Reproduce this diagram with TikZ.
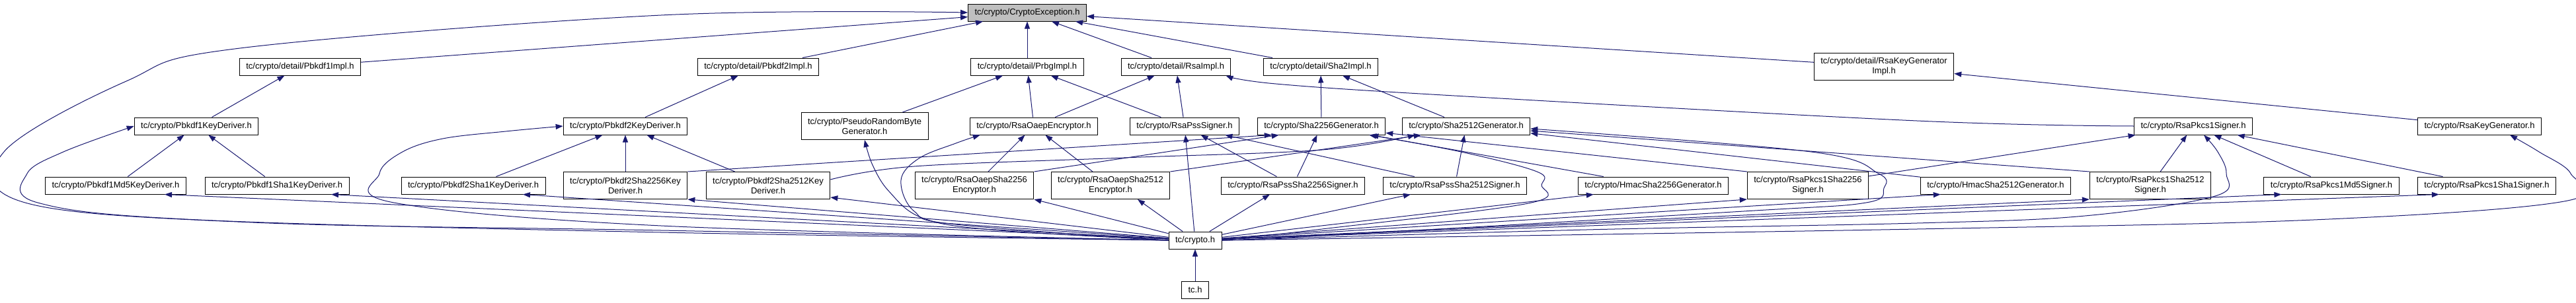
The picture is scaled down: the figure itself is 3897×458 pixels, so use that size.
\documentclass[tikz,border=0pt]{standalone}
\usepackage{fontspec}
\setmainfont{Liberation Sans}
\usetikzlibrary{arrows.meta}
\definecolor{edgeblue}{HTML}{191970}
\definecolor{rootgray}{HTML}{BFBFBF}

\begin{document}
\begin{tikzpicture}[x=1pt,y=-1pt,
    dep/.style={draw=edgeblue,line width=1pt,-{Triangle[length=11pt,width=8pt]}},
    tall/.style={minimum height=41pt}]
    \useasboundingbox (0,0) rectangle (3897,458);
    \begin{scope}[every node/.style={draw,fill=white,line width=1pt,inner xsep=10pt,inner ysep=2pt,
        minimum height=26pt,align=center,font=\fontsize{13}{15}\selectfont}]
      \node[fill=rootgray] (ce) at (1554,19) {tc/crypto/CryptoException.h};
      \node (pbkdf1impl) at (454,101) {tc/crypto/detail/Pbkdf1Impl.h};
      \node (pbkdf2impl) at (1147,101) {tc/crypto/detail/Pbkdf2Impl.h};
      \node (prbgimpl) at (1554,101) {tc/crypto/detail/PrbgImpl.h};
      \node (rsaimpl) at (1779,101) {tc/crypto/detail/RsaImpl.h};
      \node (sha2impl) at (1998,101) {tc/crypto/detail/Sha2Impl.h};
      \node[tall] (keygenimpl) at (2850,101) {tc/crypto/detail/RsaKeyGenerator\\Impl.h};
      \node (pbkdf1kd) at (297,191) {tc/crypto/Pbkdf1KeyDeriver.h};
      \node (pbkdf2kd) at (946,191) {tc/crypto/Pbkdf2KeyDeriver.h};
      \node[tall] (prbg) at (1308,191) {tc/crypto/PseudoRandomByte\\Generator.h};
      \node (oaep) at (1564,191) {tc/crypto/RsaOaepEncryptor.h};
      \node (pss) at (1792,191) {tc/crypto/RsaPssSigner.h};
      \node (sha256) at (1999,191) {tc/crypto/Sha2256Generator.h};
      \node (sha512) at (2218,191) {tc/crypto/Sha2512Generator.h};
      \node (pkcs1) at (3318,191) {tc/crypto/RsaPkcs1Signer.h};
      \node (keygen) at (3751,191) {tc/crypto/RsaKeyGenerator.h};
      \node (pbkdf1md5) at (175,281) {tc/crypto/Pbkdf1Md5KeyDeriver.h};
      \node (pbkdf1sha1) at (419,281) {tc/crypto/Pbkdf1Sha1KeyDeriver.h};
      \node (pbkdf2sha1) at (716,281) {tc/crypto/Pbkdf2Sha1KeyDeriver.h};
      \node[tall] (pbkdf2sha256) at (946,281) {tc/crypto/Pbkdf2Sha2256Key\\Deriver.h};
      \node[tall] (pbkdf2sha512) at (1162,281) {tc/crypto/Pbkdf2Sha2512Key\\Deriver.h};
      \node[tall] (oaep256) at (1474,281) {tc/crypto/RsaOaepSha2256\\Encryptor.h};
      \node[tall] (oaep512) at (1680,281) {tc/crypto/RsaOaepSha2512\\Encryptor.h};
      \node (pss256) at (1956,281) {tc/crypto/RsaPssSha2256Signer.h};
      \node (pss512) at (2201,281) {tc/crypto/RsaPssSha2512Signer.h};
      \node (hmac256) at (2501,281) {tc/crypto/HmacSha2256Generator.h};
      \node[tall] (pkcs256) at (2735,281) {tc/crypto/RsaPkcs1Sha2256\\Signer.h};
      \node (hmac512) at (3019,281) {tc/crypto/HmacSha2512Generator.h};
      \node[tall] (pkcs512) at (3253,281) {tc/crypto/RsaPkcs1Sha2512\\Signer.h};
      \node (pkcsmd5) at (3527,281) {tc/crypto/RsaPkcs1Md5Signer.h};
      \node (pkcssha1) at (3762,281) {tc/crypto/RsaPkcs1Sha1Signer.h};
      \node (crypto) at (1808,364) {tc/crypto.h};
      \node (tch) at (1808,439) {tc.h};
    \end{scope}
    \begin{scope}[every edge/.style={dep}]
      \path (pbkdf1impl) edge (ce);
      \path (pbkdf2impl) edge (ce);
      \path (prbgimpl) edge (ce);
      \path (rsaimpl) edge (ce);
      \path (sha2impl) edge (ce);
      \path (keygenimpl) edge (ce);
      \path (pbkdf1kd) edge (pbkdf1impl);
      \path (pbkdf2kd) edge (pbkdf2impl);
      \path (prbg) edge (prbgimpl);
      \path (oaep) edge (prbgimpl);
      \path (oaep) edge (rsaimpl);
      \path (pss) edge (prbgimpl);
      \path (pss) edge (rsaimpl);
      \path (sha256) edge (sha2impl);
      \path (sha512) edge (sha2impl);
      \path (keygen) edge (keygenimpl);
      \path (pbkdf1md5) edge (pbkdf1kd);
      \path (pbkdf1sha1) edge (pbkdf1kd);
      \path (pbkdf2sha1) edge (pbkdf2kd);
      \path (pbkdf2sha256) edge (pbkdf2kd);
      \path (pbkdf2sha512) edge (pbkdf2kd);
      \path (pbkdf2sha256.north east) edge ([xshift=22pt]sha256.south west);
      \path (oaep256) edge (oaep);
      \path (oaep512) edge (oaep);
      \path (oaep256.north east) edge ([xshift=33pt]sha256.south west);
      \path (oaep512.north east) edge ([xshift=29pt]sha512.south west);
      \path (pss256) edge (pss);
      \path (pss512) edge (pss);
      \path (pss256) edge (sha256);
      \path (pss512) edge (sha512);
      \path (hmac256) edge (sha256);
      \path (hmac512) edge (sha512);
      \path (pkcs256.north west) edge (sha256);
      \path (pkcs512.north west) edge (sha512);
      \path (pkcs256) edge (pkcs1);
      \path (pkcs512) edge (pkcs1);
      \path (pkcsmd5) edge (pkcs1);
      \path (pkcssha1) edge (pkcs1);
      \path (crypto) edge (pss);
      \path (crypto) edge ([xshift=74pt]pbkdf1md5.south);
      \path (crypto) edge ([xshift=82pt]pbkdf1sha1.south);
      \path (crypto) edge ([xshift=75pt]pbkdf2sha1.south);
      \path (crypto) edge (pbkdf2sha256.south east);
      \path (crypto) edge ([yshift=3pt]pbkdf2sha512.south east);
      \path (crypto) edge (oaep256.south east);
      \path (crypto) edge ([xshift=41pt]oaep512.south);
      \path (crypto) edge ([xshift=-35pt]pss256.south);
      \path (crypto) edge ([xshift=-67pt]pss512.south);
      \path (crypto) edge ([xshift=24pt]hmac256.south west);
      \path (crypto) edge (pkcs256.south west);
      \path (crypto) edge ([xshift=31pt]hmac512.south west);
      \path (crypto) edge (pkcs512.south west);
      \path (crypto) edge ([xshift=27pt]pkcsmd5.south west);
      \path (crypto) edge ([xshift=33pt]pkcssha1.south west);
      \path (tch) edge (crypto);
    \end{scope}
    \draw[dep] plot[smooth,tension=0.6] coordinates {([yshift=9pt]pbkdf2sha512.east) (1383,252) (1700,239) (2000,227) ([xshift=20pt]sha512.south west)};
    \draw[dep] plot[smooth,tension=0.6] coordinates {(crypto.west) (1000,349) (383,337) (38,307) (6,230) (191,123) (363,73) (1000,23) (ce.west)};
    \draw[dep] plot[smooth,tension=0.6] coordinates {(crypto.west) (1000,352) (300,333) (57,307) (41,263) (96,230) (pbkdf1kd.west)};
    \draw[dep] plot[smooth,tension=0.6] coordinates {(crypto.west) (1000,342) (596,307) (574,263) (609,230) (670,210) (765,199) (pbkdf2kd.west)};
    \draw[dep] plot[smooth,tension=0.6] coordinates {(crypto.west) (1500,348) (1395,330) (1345,290) (1320,250) (prbg.south)};
    \draw[dep] plot[smooth,tension=0.6] coordinates {(crypto.west) (1446,340) (1383,320) (1363,273) (1390,240) (1446,217) ([xshift=16pt]oaep.south west)};
    \draw[dep] plot[smooth,tension=0.6] coordinates {(crypto.east) (2000,347) (2312,308) (2332,280) (2325,260) (2210,230) ([xshift=-25pt]sha256.south east)};
    \draw[dep] plot[smooth,tension=0.6] coordinates {(crypto.east) (2000,357) (2638,320) (2823,307) (2850,285) (2842,263) (2740,230) ([yshift=-4pt]sha512.east)};
    \draw[dep] plot[smooth,tension=0.6] coordinates {(crypto.east) (2400,348) (2900,338) (3154,327) (3351,297) (3368,263) (3355,230) ([xshift=16pt]pkcs1.south)};
    \draw[dep] plot[smooth,tension=0.6] coordinates {(crypto.east) (2900,347) (3500,333) (3879,305) (3889,263) (3841,230) ([xshift=46pt]keygen.south)};
    \draw[dep] plot[smooth,tension=0.6] coordinates {(pkcs1.west) (2900,183) (2200,145) (1930,127) ([xshift=-8pt]rsaimpl.south east)};
  \end{tikzpicture}
\end{document}
